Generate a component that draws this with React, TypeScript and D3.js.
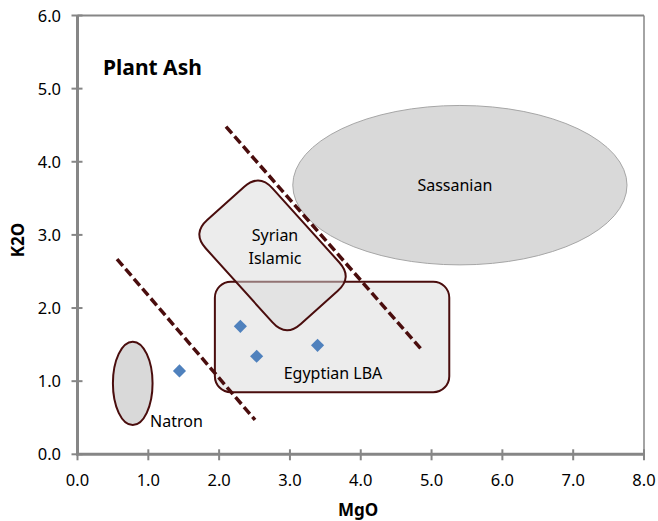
import React from "react";
import * as d3 from "d3";

// ---- data (MgO vs K2O, wt%) ----
const xTicks = [0, 1, 2, 3, 4, 5, 6, 7, 8];
const yTicks = [0, 1, 2, 3, 4, 5, 6];
const samplesMgO = [1.44, 2.3, 2.53, 3.39];
const samplesK2O = [1.14, 1.75, 1.34, 1.49];

// ellipses: [cx, cy, rx, ry] in data units
const natronEllipse = [0.78, 0.97, 0.28, 0.57];
const sassanianEllipse = [5.4, 3.68, 2.36, 1.09];
// Egyptian LBA box: [x0, y0, x1, y1]
const egyptianBox = [1.94, 0.85, 5.25, 2.36];
// Syrian Islamic tilted box corners (MgO, K2O)
const syrianCorners = [
  [2.565, 3.84],
  [3.887, 2.42],
  [2.943, 1.6],
  [1.621, 3.02],
];
// dashed divider lines [x0, y0, x1, y1]
const dividerLines = [
  [0.558, 2.67, 2.507, 0.47],
  [2.097, 4.48, 4.86, 1.43],
];

const W = 658;
const H = 521;
const left = 77.5;
const right = 644;
const top = 15.5;
const bottom = 454.3;

const x = d3.scaleLinear().domain([0, 8]).range([left, right]);
const y = d3.scaleLinear().domain([0, 6]).range([bottom, top]);

const maroon = "#4a0d0d";
const axisGray = "#868686";
const font = "'Noto Sans', 'Open Sans', sans-serif";

function roundedPolygon(pts: number[][], r: number) {
  const n = pts.length;
  let d = "";
  for (let i = 0; i < n; i++) {
    const p0 = pts[(i - 1 + n) % n];
    const p1 = pts[i];
    const p2 = pts[(i + 1) % n];
    const v1 = [p0[0] - p1[0], p0[1] - p1[1]];
    const v2 = [p2[0] - p1[0], p2[1] - p1[1]];
    const l1 = Math.hypot(v1[0], v1[1]);
    const l2 = Math.hypot(v2[0], v2[1]);
    const a = [p1[0] + (v1[0] / l1) * r, p1[1] + (v1[1] / l1) * r];
    const b = [p1[0] + (v2[0] / l2) * r, p1[1] + (v2[1] / l2) * r];
    d += (i === 0 ? "M" : "L") + a[0] + "," + a[1];
    d += "Q" + p1[0] + "," + p1[1] + " " + b[0] + "," + b[1];
  }
  return d + "Z";
}

export default function App() {
  const diamond = d3.symbol().type(d3.symbolDiamond2).size(110)() as string;
  const syrianPx = syrianCorners.map(([a, b]) => [x(a), y(b)]);
  const [nx, ny, nrx, nry] = natronEllipse;
  const [sx, sy, srx, sry] = sassanianEllipse;
  const [ex0, ey0, ex1, ey1] = egyptianBox;

  return (
    <svg width={W} height={H} style={{ position: "absolute", left: 0, top: 0, background: "#fff" }}>
      {/* frame */}
      <line x1={left} x2={right} y1={top} y2={top} stroke={axisGray} strokeWidth={2} />
      <line x1={right} x2={right} y1={top} y2={bottom} stroke={axisGray} strokeWidth={1.5} />

      {/* Sassanian */}
      <ellipse cx={x(sx)} cy={y(sy)} rx={x(srx) - x(0)} ry={y(0) - y(sry)} fill="#d9d9d9" stroke="#a6a6a6" strokeWidth={1} />
      <text x={x(sx) - 5} y={y(sy) + 6} textAnchor="middle" fontFamily={font} fontSize={16}>Sassanian</text>

      {/* Egyptian LBA */}
      <rect x={x(ex0)} y={y(ey1)} width={x(ex1) - x(ex0)} height={y(ey0) - y(ey1)} rx={16} ry={16}
        fill="#d9d9d9" fillOpacity={0.5} stroke={maroon} strokeWidth={2} />

      {/* Syrian Islamic */}
      <path d={roundedPolygon(syrianPx, 20)} fill="#d9d9d9" fillOpacity={0.5} stroke={maroon} strokeWidth={2} />
      <text x={275} y={241} textAnchor="middle" fontFamily={font} fontSize={16}>Syrian</text>
      <text x={275} y={264} textAnchor="middle" fontFamily={font} fontSize={16}>Islamic</text>

      {/* Natron */}
      <ellipse cx={x(nx)} cy={y(ny)} rx={x(nrx) - x(0)} ry={y(0) - y(nry)} fill="#d9d9d9" stroke={maroon} strokeWidth={2} />
      <text x={150} y={427} fontFamily={font} fontSize={16}>Natron</text>

      <text x={333} y={379} textAnchor="middle" fontFamily={font} fontSize={16}>Egyptian LBA</text>

      {/* dividers */}
      {dividerLines.map(([a, b, c, d], i) => (
        <line key={i} x1={x(a)} y1={y(b)} x2={x(c)} y2={y(d)} stroke={maroon} strokeWidth={3.5} strokeDasharray="9,4" />
      ))}

      {/* samples */}
      {samplesMgO.map((m, i) => (
        <path key={i} d={diamond} transform={`translate(${x(m)},${y(samplesK2O[i])})`} fill="#4f81bd" />
      ))}

      {/* axes */}
      <line x1={left} x2={left} y1={top} y2={bottom + 1} stroke={axisGray} strokeWidth={3} />
      <line x1={left - 1.5} x2={right + 1} y1={bottom} y2={bottom} stroke={axisGray} strokeWidth={3} />
      {xTicks.map((t) => (
        <g key={"x" + t}>
          <line x1={x(t)} x2={x(t)} y1={bottom - 5} y2={bottom + 6} stroke={axisGray} strokeWidth={2} />
          <text x={x(t)} y={486} textAnchor="middle" fontFamily={font} fontSize={16.5} fill="#000">{t.toFixed(1)}</text>
        </g>
      ))}
      {yTicks.map((t) => (
        <g key={"y" + t}>
          <line x1={left - 6} x2={left + 5} y1={y(t)} y2={y(t)} stroke={axisGray} strokeWidth={2} />
          <text x={61} y={y(t) + 6} textAnchor="end" fontFamily={font} fontSize={16.5} fill="#000">{t.toFixed(1)}</text>
        </g>
      ))}

      <text x={358} y={516} textAnchor="middle" fontFamily={font} fontSize={17} fontWeight="bold">MgO</text>
      <text transform="translate(24,240) rotate(-90)" textAnchor="middle" fontFamily={font} fontSize={17} fontWeight="bold">K2O</text>
      <text x={103} y={75} fontFamily={font} fontSize={21} fontWeight="bold">Plant Ash</text>
    </svg>
  );
}
